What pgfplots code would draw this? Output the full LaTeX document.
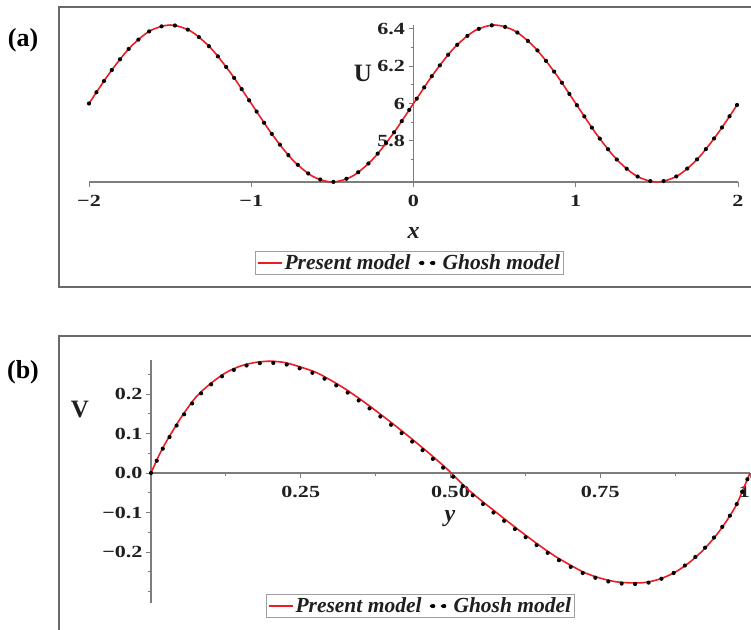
\documentclass[border=0pt]{standalone}
\usepackage{pgfplots}
\pgfplotsset{compat=1.18}
\usepackage{pgfplotstable}
\usepackage{fontspec}
\setmainfont{Liberation Serif}
\newfontfamily\tickfont[FakeStretch=1.3]{Liberation Serif}
\definecolor{framegray}{RGB}{105,105,105}
\definecolor{axgray}{RGB}{125,125,125}
\definecolor{curvered}{RGB}{237,28,36}

\pgfplotstableread{
x U
-2 6.0000
-1.875 6.1607
-1.75 6.2970
-1.625 6.3880
-1.5 6.4200
-1.375 6.3880
-1.25 6.2970
-1.125 6.1607
-1 6.0000
-0.875 5.8393
-0.75 5.7030
-0.625 5.6120
-0.5 5.5800
-0.375 5.6120
-0.25 5.7030
-0.125 5.8393
0 6.0000
0.125 6.1607
0.25 6.2970
0.375 6.3880
0.5 6.4200
0.625 6.3880
0.75 6.2970
0.875 6.1607
1 6.0000
1.125 5.8393
1.25 5.7030
1.375 5.6120
1.5 5.5800
1.625 5.6120
1.75 5.7030
1.875 5.8393
2 6.0000
}\tableA

\pgfplotstableread{
y V
0 0
0.0125 0.042
0.025 0.078
0.05 0.140
0.075 0.192
0.1 0.227
0.125 0.254
0.15 0.271
0.175 0.280
0.2 0.283
0.225 0.279
0.25 0.268
0.275 0.255
0.3 0.235
0.325 0.212
0.35 0.186
0.375 0.158
0.4 0.129
0.425 0.099
0.45 0.068
0.475 0.036
0.5 0.002
0.525 -0.036
0.55 -0.068
0.575 -0.098
0.6 -0.128
0.625 -0.157
0.65 -0.185
0.675 -0.211
0.7 -0.233
0.725 -0.253
0.75 -0.266
0.775 -0.275
0.8 -0.278
0.825 -0.277
0.85 -0.268
0.875 -0.251
0.9 -0.225
0.925 -0.190
0.95 -0.145
0.975 -0.087
0.9875 -0.045
1 0
}\presentB

\pgfplotstableread{
y V
0 0
0.0125 0.040
0.025 0.076
0.05 0.137
0.075 0.188
0.1 0.224
0.125 0.251
0.15 0.268
0.175 0.277
0.2 0.279
0.225 0.275
0.25 0.264
0.275 0.250
0.3 0.230
0.325 0.207
0.35 0.180
0.375 0.152
0.4 0.123
0.425 0.093
0.45 0.062
0.475 0.030
0.5 -0.003
0.525 -0.040
0.55 -0.073
0.575 -0.104
0.6 -0.133
0.625 -0.162
0.65 -0.189
0.675 -0.215
0.7 -0.237
0.725 -0.256
0.75 -0.269
0.775 -0.278
0.8 -0.281
0.825 -0.279
0.85 -0.269
0.875 -0.251
0.9 -0.224
0.925 -0.189
0.95 -0.144
0.975 -0.087
0.9875 -0.045
1 0
}\ghoshB

\pgfplotsset{
  mystyle/.style={
    scale only axis, clip=false,
    axis line style={axgray, line width=1.3pt},
    every tick/.style={axgray, line width=0.8pt},
    tick align=outside, major tick length=5pt, minor tick length=3pt,
    tick label style={font=\tickfont\fontsize{17}{20}\selectfont\bfseries, text=black!88},
    hide obscured x ticks=false, hide obscured y ticks=false,
    legend columns=2,
    legend style={draw=gray!75, line width=0.8pt, inner sep=1.5pt,
      font=\fontsize{21.5}{23}\selectfont\bfseries\itshape, text=black!88,
      /tikz/every even column/.append style={column sep=4pt}},
  },
  presentstyle/.style={curvered, line width=1.6pt, smooth,
    legend image code/.code={\draw[curvered, line width=1.6pt] (-2pt,0pt) -- (22pt,0pt);}},
  ghoshstyle/.style={black, line width=4.2pt, line cap=round, dash pattern=on 0pt off 13.5pt, smooth,
    legend image code/.code={\fill[black] (2pt,0pt) circle (1.8pt); \fill[black] (13pt,0pt) circle (1.8pt); \path (20pt,0pt);}},
}

\begin{document}
\begin{tikzpicture}
\path[use as bounding box] (0pt,0pt) rectangle (751pt,629pt);
\clip (0pt,0pt) rectangle (751pt,629pt);
\draw[framegray, line width=2.4pt] (59pt,622pt) rectangle (780pt,342pt);
\draw[framegray, line width=2.4pt] (59pt,293pt) rectangle (780pt,-30pt);
\node[font=\fontsize{26}{30}\selectfont\bfseries] at (23pt,589pt) {(a)};
\node[font=\fontsize{26}{30}\selectfont\bfseries] at (23pt,257pt) {(b)};

\begin{axis}[mystyle,
  at={(89pt,447pt)}, anchor=south west, width=649pt, height=157pt,
  axis x line*=bottom, axis y line*=middle,
  xmin=-2, xmax=2, ymin=5.58, ymax=6.42,
  xtick={-2,-1,0,1,2}, xticklabels={−2,−1,0,1,2},
  ytick={5.8,6,6.2,6.4}, yticklabels={5.8,6,6.2,6.4},
  minor ytick={5.7,5.9,6.1,6.3},
  xticklabel style={yshift=-5pt},
  xlabel={x}, ylabel={U},
  legend style={at={(axis description cs:0.494,-0.516)}, anchor=center},
  every axis x label/.style={at={(axis description cs:0.5,0)}, anchor=center, yshift=-51pt, font=\fontsize{24}{26}\selectfont\bfseries\itshape, text=black!88},
  every axis y label/.style={at={(axis description cs:0.422,0.694)}, anchor=center, font=\fontsize{25}{27}\selectfont\bfseries, text=black!88},
]
\addplot[presentstyle] table[x=x,y=U] {\tableA};
\addlegendentry{Present model}
\addplot[ghoshstyle] table[x=x,y=U] {\tableA};
\addlegendentry{Ghosh model}
\end{axis}

\begin{axis}[mystyle,
  at={(151pt,25.6pt)}, anchor=south west, width=599pt, height=243pt,
  axis x line*=middle, axis y line*=middle,
  xmin=0, xmax=1, ymin=-0.33, ymax=0.285,
  xtick={0.25,0.5,0.75,1}, xticklabels={0.25,0.50,0.75,\makebox[0pt][r]{1}},
  minor xtick={0.125,0.375,0.625,0.875},
  ytick={-0.2,-0.1,0,0.1,0.2}, yticklabels={−0.2,−0.1,0.0,0.1,0.2},
  minor ytick={-0.3,-0.25,-0.15,-0.05,0.05,0.15,0.25},
  xticklabel style={yshift=-5pt},
  xlabel={y}, ylabel={V},
  legend style={at={(axis description cs:0.45,-0.011)}, anchor=center},
  every axis x label/.style={at={(axis description cs:0.499,0.351)}, anchor=center, font=\fontsize{24}{26}\selectfont\bfseries\itshape, text=black!88},
  every axis y label/.style={at={(axis description cs:-0.1185,0.796)}, anchor=center, font=\fontsize{25}{27}\selectfont\bfseries, text=black!88},
]
\addplot[presentstyle] table[x=y,y=V] {\presentB};
\addlegendentry{Present model}
\addplot[ghoshstyle] table[x=y,y=V] {\ghoshB};
\addlegendentry{Ghosh model}
\end{axis}
\end{tikzpicture}
\end{document}
